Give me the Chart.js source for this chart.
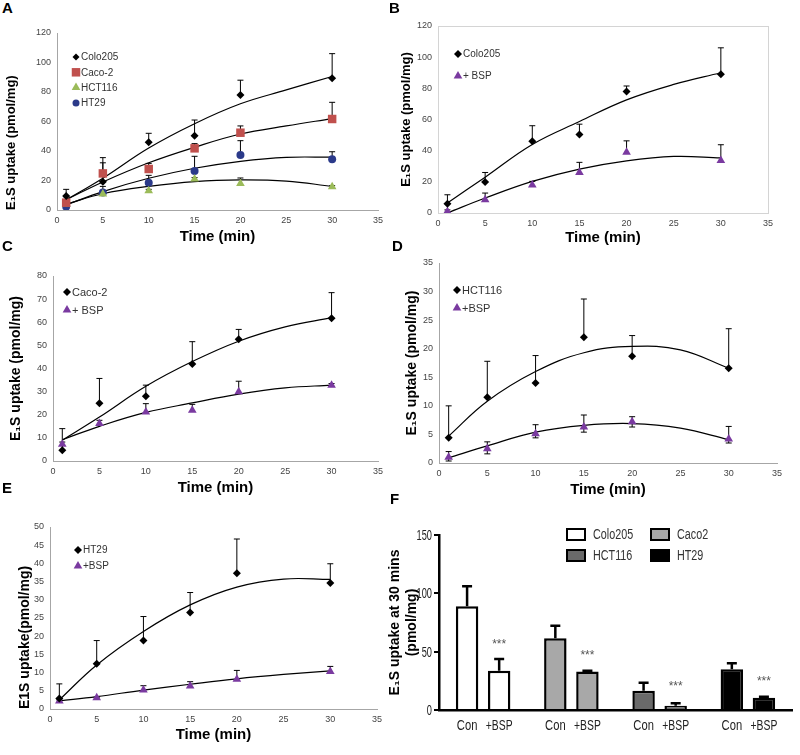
<!DOCTYPE html>
<html>
<head>
<meta charset="utf-8">
<script src="https://cdn.jsdelivr.net/npm/chart.js@4.4.1/dist/chart.umd.min.js"></script>
<style>
  body { margin: 0; background: #fff; }
  #wrap { position: relative; width: 800px; height: 755px; overflow: hidden; }
  canvas { position: absolute; }
  .lab { position: absolute; font: bold 15px "Liberation Sans", Arial, sans-serif; line-height: 15px; color: #000; }
</style>
</head>
<body>
<div id="wrap">
  <canvas id="cA" width="392" height="230" style="left:0;top:20px"></canvas>
  <canvas id="cB" width="400" height="240" style="left:392px;top:10px"></canvas>
  <canvas id="cC" width="392" height="245" style="left:0;top:255px"></canvas>
  <canvas id="cD" width="408" height="252" style="left:392px;top:250px"></canvas>
  <canvas id="cE" width="392" height="245" style="left:0;top:510px"></canvas>
  <canvas id="cF" width="416" height="255" style="left:384px;top:500px"></canvas>
  <div class="lab" style="left:2px;top:0">A</div>
  <div class="lab" style="left:389px;top:0">B</div>
  <div class="lab" style="left:2px;top:238px">C</div>
  <div class="lab" style="left:392px;top:238px">D</div>
  <div class="lab" style="left:2px;top:480px">E</div>
  <div class="lab" style="left:390px;top:491px">F</div>
</div>
<script>
// time points (min)
const times = [1, 5, 10, 15, 20, 30];
const fitTimes = [1, 5, 10, 15, 20, 25, 30];
const timeTicks = [0, 5, 10, 15, 20, 25, 30, 35];

// A - all cell lines
const aColo205 = [9.5, 19.2, 46, 50.4, 78, 89.3];
const aColo205Err = [14, 32, 52, 61, 88, 106];
const aColo205Fit = [6.8, 21.5, 42, 58.5, 72, 81.4, 90.5];
const aCaco2 = [5, 24.8, 27.8, 41.8, 52.4, 61.7];
const aCaco2Err = [9, 35.5, 31.6, 45, 57, 73];
const aCaco2Fit = [7, 19, 32, 42.5, 51.5, 57, 62];
const aHCT116 = [4, 10.8, 13, 21, 18, 15.8];
const aHCT116Err = [5, 11.5, 14, 22, 21.7, 16.5];
const aHCT116Fit = [4, 11, 16, 19.3, 20.4, 19.6, 16];
const aHT29 = [2.3, 11.8, 18.5, 26.5, 37.3, 34.4];
const aHT29Err = [4, 16, 23.5, 36.4, 47, 39.5];
const aHT29Fit = [3.5, 12.5, 21.5, 28.3, 33, 35.7, 35.8];

// B - Colo205 +/- BSP
const bCon = [6, 19.9, 46, 50.4, 78, 89];
const bConErr = [11.7, 26, 56, 57, 81.5, 106];
const bConFit = [6.4, 23, 44, 58.7, 72.6, 82.5, 90];
const bBsp = [1, 8.5, 18, 26, 39, 33.7];
const bBspErr = [2, 12.8, 20.3, 32.5, 46.3, 43.8];
const bBspFit = [0, 9.6, 20.3, 28.2, 33.5, 36.3, 35.4];

// C - Caco-2 +/- BSP
const cCon = [4.6, 25, 28, 41.9, 52.6, 61.7];
const cConErr = [14, 35.7, 32.8, 51.6, 56.9, 72.8];
const cConFit = [9, 19, 32.3, 43, 51.8, 58, 62];
const cBsp = [7.2, 16.2, 21.2, 22, 29.9, 32.8];
const cBspErr = [8.2, 17.6, 24.8, 24.5, 34.5, 33.5];
const cBspFit = [9.2, 15, 21, 25.1, 28.9, 31.6, 32.8];

// D - HCT116 +/- BSP
const dCon = [4.4, 11.5, 14, 22, 18.7, 16.6];
const dConErr = [10, 17.8, 18.8, 28.7, 22.3, 23.5];
const dConFit = [4.7, 10.8, 16, 19.3, 20.4, 19.8, 16.6];
const dBsp = [1, 2.5, 5.1, 6.3, 7.2, 4.2];
const dBspErr = [2, 3.7, 6.7, 8.4, 8.1, 6.4];
const dBspErrLow = [0.35, 1.6, 4.4, 5.4, 6.3, 3.5];
const dBspFit = [0.9, 3, 5.4, 6.6, 6.9, 6.1, 4.1];

// E - HT29 +/- BSP
const eCon = [2.9, 12.4, 18.8, 26.5, 37.3, 34.6];
const eConErr = [6.9, 18.8, 25.4, 32, 46.7, 39.9];
const eConFit = [2.5, 12.1, 21.3, 28.6, 33.5, 35.7, 35.6];
const eBsp = [2.2, 3.1, 5.2, 6.3, 8.2, 10.3];
const eBspErr = [2.5, 3.2, 6.4, 7.5, 10.6, 11.7];
const eBspFit = [2.2, 3.4, 5.2, 6.8, 8.3, 9.5, 10.5];

// F - uptake at 30 min
const fLines = ['Colo205', 'Caco2', 'HCT116', 'HT29'];
const fCon = [89, 61.4, 16.6, 34.9];
const fConErr = [106, 72.3, 23.4, 40];
const fBsp = [33.7, 32.9, 3.7, 10.6];
const fBspErr = [43.7, 33.7, 5.7, 11.4];
const fStarY = [58.6, 49.4, 22.3, 26.6];
const fYTicks = [0, 50, 100, 150];
const fColors = ['#ffffff', '#a8a8a8', '#6a6a6a', '#000000'];

const SANS = '"Liberation Sans", Arial, sans-serif';
const RED = '#c0504d', GREEN = '#9bbb59', BLUE = '#2b3a8a', PURPLE = '#7a3aa0';

// error bars drawn from dataset.errTop / dataset.errLow
const errorBars = {
  id: 'errorBars',
  beforeDatasetsDraw(chart) {
    const ctx = chart.ctx;
    const ys = chart.scales.y;
    chart.data.datasets.forEach((ds, di) => {
      if (!ds.errTop) return;
      const meta = chart.getDatasetMeta(di);
      const cap = ds.errCap || 3;
      ctx.save();
      ctx.strokeStyle = '#000';
      ctx.lineWidth = ds.errWidth || 1;
      meta.data.forEach((el, i) => {
        const x = el.x;
        const yv = el.y;
        const yt = ys.getPixelForValue(ds.errTop[i]);
        ctx.beginPath();
        ctx.moveTo(x, yv); ctx.lineTo(x, yt);
        ctx.moveTo(x - cap, yt); ctx.lineTo(x + cap, yt);
        if (ds.errLow) {
          const yl = ys.getPixelForValue(ds.errLow[i]);
          ctx.moveTo(x, yv); ctx.lineTo(x, yl);
          ctx.moveTo(x - cap, yl); ctx.lineTo(x + cap, yl);
        }
        ctx.stroke();
      });
      ctx.restore();
    });
  }
};

// legend drawn inside plot area
const innerLegend = {
  id: 'innerLegend',
  afterDraw(chart, args, opts) {
    if (!opts.items) return;
    const ctx = chart.ctx;
    ctx.save();
    ctx.font = opts.font;
    ctx.textBaseline = 'middle';
    opts.items.forEach((it, i) => {
      const y = opts.y + i * opts.dy;
      ctx.fillStyle = it.color;
      ctx.strokeStyle = it.color;
      Chart.helpers.drawPoint(ctx, { pointStyle: it.style, radius: it.r, borderWidth: 0, rotation: 0 }, opts.x, y);
      ctx.fillStyle = '#333';
      ctx.fillText(it.label, opts.x + opts.gap, y + 0.5);
    });
    ctx.restore();
  }
};

const areaBorder = {
  id: 'areaBorder',
  afterDraw(chart, args, opts) {
    if (!opts.color) return;
    const a = chart.chartArea;
    chart.ctx.save();
    chart.ctx.strokeStyle = opts.color;
    chart.ctx.lineWidth = 1;
    chart.ctx.strokeRect(a.left + 0.5, a.top + 0.5, a.right - a.left, a.bottom - a.top);
    chart.ctx.restore();
  }
};

function scatterPanel(id, p) {
  const datasets = [];
  p.series.forEach(s => {
    datasets.push({
      label: s.label,
      data: times.map((t, i) => ({ x: t, y: s.y[i] })),
      pointStyle: s.style, pointRadius: s.r, pointHoverRadius: s.r,
      backgroundColor: s.color, borderColor: s.color, borderWidth: 0,
      errTop: s.err, errLow: s.low, errCap: 3, order: 0
    });
    datasets.push({
      label: s.label + ' fit',
      data: fitTimes.map((t, i) => ({ x: t, y: s.fit[i] })),
      showLine: true, pointRadius: 0, borderColor: '#000', borderWidth: 1.2,
      tension: 0.4, fill: false, order: 1
    });
  });
  new Chart(document.getElementById(id), {
    type: 'scatter',
    data: { datasets },
    options: {
      responsive: false, animation: false,
      layout: { padding: { top: p.padTop, right: p.padRight, left: 0, bottom: 0 } },
      plugins: {
        legend: { display: false }, tooltip: { enabled: false },
        innerLegend: p.legend, areaBorder: { color: p.border }
      },
      scales: {
        x: {
          type: 'linear', min: 0, max: 35,
          afterBuildTicks: s => { s.ticks = timeTicks.map(v => ({ value: v })); },
          afterFit: s => { s.height = p.xH; },
          grid: { display: false, drawTicks: false },
          border: { color: '#a6a6a6' },
          ticks: { font: { family: SANS, size: 9 }, color: '#444', padding: 5 },
          title: { display: true, text: 'Time (min)', color: '#000',
                   font: { family: SANS, size: 15, weight: 'bold' }, padding: { top: 0, bottom: p.xTitlePad } }
        },
        y: {
          min: 0, max: p.yMax,
          ticks: { stepSize: p.yStep, font: { family: SANS, size: 9 }, color: '#444', padding: 6 },
          afterFit: s => { s.width = p.yW; },
          grid: { display: false, drawTicks: false },
          border: { color: '#a6a6a6' },
          title: { display: true, text: p.yTitle, color: '#000', align: p.yTitleAlign || 'center',
                   font: { family: SANS, size: p.yTitleSize || 13, weight: 'bold' }, padding: { top: p.yTitlePad, bottom: 0 } }
        }
      }
    },
    plugins: [errorBars, innerLegend, areaBorder]
  });
}

const diamond = (label, y, err, fit, low) => ({ label, y, err, fit, low, style: 'rectRot', r: 4, color: '#000' });
const tri = (label, y, err, fit, low, color) => ({ label, y, err, fit, low, style: 'triangle', r: 5, color: color || PURPLE });

scatterPanel('cA', {
  padTop: 13, padRight: 14, yW: 57, xH: 40, yMax: 120, yStep: 20, xTitlePad: 4, yTitlePad: 4,
  yTitle: 'E\u2081S uptake (pmol/mg)', yTitleAlign: 'start',
  series: [
    diamond('Colo205', aColo205, aColo205Err, aColo205Fit),
    { label: 'Caco-2', y: aCaco2, err: aCaco2Err, fit: aCaco2Fit, style: 'rect', r: 6, color: RED },
    tri('HCT116', aHCT116, aHCT116Err, aHCT116Fit, null, GREEN),
    { label: 'HT29', y: aHT29, err: aHT29Err, fit: aHT29Fit, style: 'circle', r: 4, color: BLUE }
  ],
  legend: { x: 76, y: 37, dy: 15.3, gap: 5, font: '10px ' + SANS, items: [
    { label: 'Colo205', style: 'rectRot', r: 3.5, color: '#000' },
    { label: 'Caco-2', style: 'rect', r: 6, color: RED },
    { label: 'HCT116', style: 'triangle', r: 5, color: GREEN },
    { label: 'HT29', style: 'circle', r: 3.5, color: BLUE }
  ] }
});

scatterPanel('cB', {
  padTop: 16, padRight: 24, yW: 46, xH: 37, yMax: 120, yStep: 20, xTitlePad: 3, yTitlePad: 7,
  yTitle: 'E\u2081S uptake (pmol/mg)', border: '#d4d4d4',
  series: [
    diamond('Colo205', bCon, bConErr, bConFit),
    tri('+ BSP', bBsp, bBspErr, bBspFit)
  ],
  legend: { x: 66, y: 44, dy: 22, gap: 5, font: '10px ' + SANS, items: [
    { label: 'Colo205', style: 'rectRot', r: 4, color: '#000' },
    { label: '+ BSP', style: 'triangle', r: 5, color: PURPLE }
  ] }
});

scatterPanel('cC', {
  padTop: 21, padRight: 14, yW: 53, xH: 39, yMax: 80, yStep: 10, xTitlePad: 3, yTitlePad: 8, yTitleSize: 14,
  yTitle: 'E\u2081S uptake (pmol/mg)',
  series: [
    diamond('Caco-2', cCon, cConErr, cConFit),
    tri('+ BSP', cBsp, cBspErr, cBspFit)
  ],
  legend: { x: 67, y: 37, dy: 18, gap: 5, font: '11px ' + SANS, items: [
    { label: 'Caco-2', style: 'rectRot', r: 4, color: '#000' },
    { label: '+ BSP', style: 'triangle', r: 5, color: PURPLE }
  ] }
});

scatterPanel('cD', {
  padTop: 13, padRight: 23, yW: 47, xH: 39, yMax: 35, yStep: 5, xTitlePad: 3, yTitlePad: 12, yTitleSize: 14,
  yTitle: 'E\u2081S uptake (pmol/mg)',
  series: [
    diamond('HCT116', dCon, dConErr, dConFit),
    tri('+BSP', dBsp, dBspErr, dBspFit, dBspErrLow)
  ],
  legend: { x: 65, y: 40, dy: 18, gap: 5, font: '11px ' + SANS, items: [
    { label: 'HCT116', style: 'rectRot', r: 4, color: '#000' },
    { label: '+BSP', style: 'triangle', r: 5, color: PURPLE }
  ] }
});

scatterPanel('cE', {
  padTop: 17, padRight: 15, yW: 50, xH: 46, yMax: 50, yStep: 5, xTitlePad: 11, yTitlePad: 17, yTitleSize: 14,
  yTitle: 'E1S uptake(pmol/mg)', yTitleAlign: 'start',
  series: [
    diamond('HT29', eCon, eConErr, eConFit),
    tri('+BSP', eBsp, eBspErr, eBspFit)
  ],
  legend: { x: 78, y: 40, dy: 16, gap: 5, font: '10px ' + SANS, items: [
    { label: 'HT29', style: 'rectRot', r: 4, color: '#000' },
    { label: '+BSP', style: 'triangle', r: 5, color: PURPLE }
  ] }
});

// F - bar chart; condensed text drawn with a horizontal squeeze
function narrowText(ctx, text, x, y, align, sx) {
  ctx.save();
  ctx.translate(x, y);
  ctx.scale(sx, 1);
  ctx.textAlign = align;
  ctx.fillText(text, 0, 0);
  ctx.restore();
}

const barExtras = {
  id: 'barExtras',
  afterDraw(chart) {
    const ctx = chart.ctx;
    const ys = chart.scales.y;
    const area = chart.chartArea;
    const mCon = chart.getDatasetMeta(0), mBsp = chart.getDatasetMeta(1);
    ctx.save();
    ctx.textBaseline = 'middle';
    ctx.font = '14px ' + SANS;
    ctx.fillStyle = '#222';
    fYTicks.forEach(v => narrowText(ctx, String(v), area.left - 7, ys.getPixelForValue(v) + 1, 'right', 0.66));
    fLines.forEach((n, i) => {
      narrowText(ctx, 'Con', mCon.data[i].x, 226, 'center', 0.8);
      narrowText(ctx, '+BSP', mBsp.data[i].x, 226, 'center', 0.74);
    });
    ctx.font = '12px ' + SANS;
    ctx.fillStyle = '#555';
    fStarY.forEach((v, i) => narrowText(ctx, '***', mBsp.data[i].x, ys.getPixelForValue(v) + 3, 'center', 1));
    // legend, 2 x 2
    const pos = [[183, 29], [267, 29], [183, 50], [267, 50]];
    ctx.font = '14px ' + SANS;
    fLines.forEach((n, i) => {
      const [x, y] = pos[i];
      ctx.fillStyle = fColors[i];
      ctx.fillRect(x, y, 18, 11);
      ctx.strokeStyle = '#000';
      ctx.lineWidth = 2;
      ctx.strokeRect(x, y, 18, 11);
      ctx.fillStyle = '#333';
      narrowText(ctx, n, x + 26, y + 6, 'left', 0.77);
    });
    ctx.restore();
  }
};

new Chart(document.getElementById('cF'), {
  type: 'bar',
  data: {
    labels: fLines,
    datasets: [
      { label: 'Con', data: fCon, backgroundColor: fColors, borderColor: '#000', borderWidth: 2.5,
        errTop: fConErr, errCap: 5, errWidth: 2.5, categoryPercentage: 0.727, barPercentage: 0.7 },
      { label: '+BSP', data: fBsp, backgroundColor: fColors, borderColor: '#000', borderWidth: 2.5,
        errTop: fBspErr, errCap: 5, errWidth: 2.5, categoryPercentage: 0.727, barPercentage: 0.7 }
    ]
  },
  options: {
    responsive: false, animation: false,
    layout: { padding: { top: 35, right: 8, left: 0, bottom: 0 } },
    plugins: { legend: { display: false }, tooltip: { enabled: false } },
    scales: {
      x: {
        grid: { display: false },
        border: { color: '#000', width: 2.5 },
        ticks: { display: false },
        afterFit: s => { s.height = 45; }
      },
      y: {
        min: 0, max: 150,
        ticks: { stepSize: 50, display: false },
        grid: { drawOnChartArea: false, tickLength: 5, color: '#000', lineWidth: 2 },
        border: { color: '#000', width: 2.5 },
        afterFit: s => { s.width = 55; },
        title: { display: true, text: ['E\u2081S uptake at 30 mins', '(pmol/mg)'], color: '#000',
                 font: { family: SANS, size: 14, weight: 'bold' }, padding: { top: 3, bottom: 0 } }
      }
    }
  },
  plugins: [errorBars, barExtras]
});
</script>
</body>
</html>
